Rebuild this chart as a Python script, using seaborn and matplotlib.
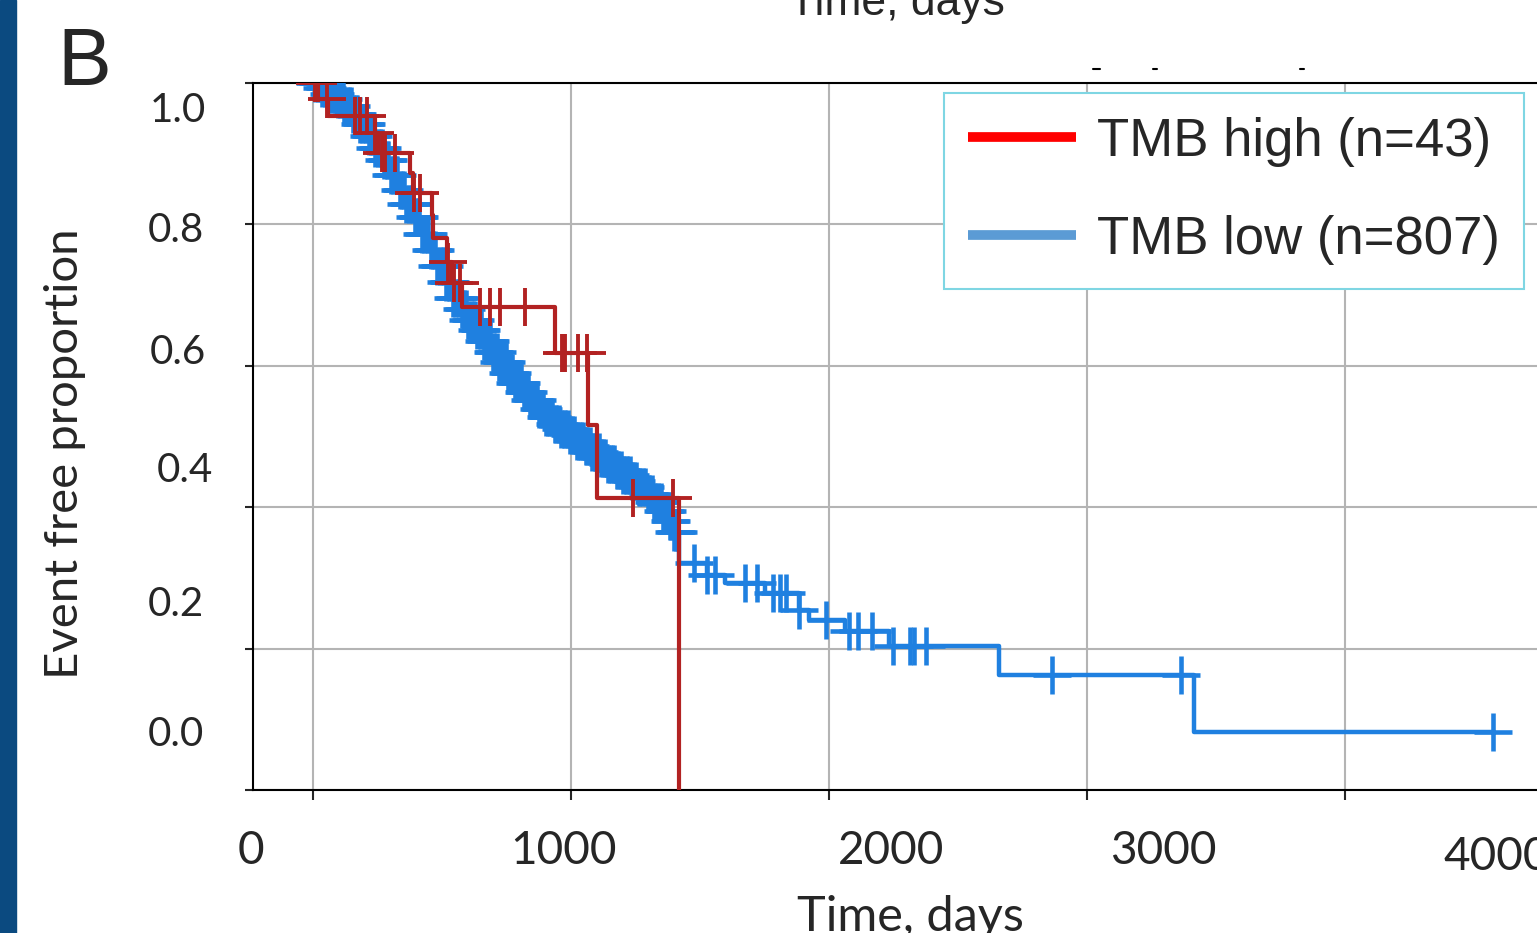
import numpy as np
import pandas as pd
import matplotlib
matplotlib.use('Agg')
import matplotlib.pyplot as plt
from matplotlib.lines import Line2D
from matplotlib.patches import Rectangle
import seaborn as sns

# TMB high (n=43): step times (days) and event free proportion after each step
high_time = [0, 20, 58, 240, 252, 376, 388, 461, 465, 519, 539, 578, 938, 1066, 1101, 1419]
high_surv = [1.0, 0.977, 0.954, 0.929, 0.901, 0.873, 0.844, 0.813, 0.781, 0.747, 0.717,
             0.683, 0.618, 0.516, 0.413, 0.0]
high_cens = [8, 19, 54, 163, 182, 209, 240, 267, 279, 318, 392, 415, 524, 548, 570,
             647, 686, 725, 822, 965, 977, 1027, 1060, 1240, 1395]

# TMB low (n=807)
low_time = [0, 30, 60, 90, 120, 150, 180, 210, 240, 270, 300, 330, 360, 390, 420, 450,
            480, 510, 540, 570, 600, 630, 660, 690, 720, 750, 780, 810, 840, 870, 900,
            930, 960, 990, 1020, 1050, 1080, 1110, 1140, 1170, 1200, 1230, 1260, 1290,
            1320, 1350, 1380, 1400, 1419, 1527, 1597, 1752, 1884, 1922, 2062, 2233,
            2659, 3415, 4574]
low_surv = [1.0, 0.993, 0.985, 0.978, 0.968, 0.956, 0.942, 0.925, 0.908, 0.891, 0.870,
            0.849, 0.829, 0.810, 0.787, 0.764, 0.741, 0.718, 0.696, 0.680, 0.665, 0.650,
            0.635, 0.620, 0.605, 0.590, 0.576, 0.563, 0.551, 0.539, 0.527, 0.517, 0.510,
            0.502, 0.494, 0.486, 0.478, 0.469, 0.461, 0.453, 0.445, 0.437, 0.428, 0.419,
            0.408, 0.395, 0.380, 0.365, 0.321, 0.304, 0.293, 0.279, 0.255, 0.241, 0.225,
            0.204, 0.163, 0.082, 0.082]
low_cens = [9, 18, 28, 35, 45, 52, 62, 69, 80, 86, 97, 103, 114, 120, 131, 138, 148,
            155, 165, 172, 182, 189, 200, 206, 217, 223, 234, 240, 251, 258, 268, 275,
            285, 292, 302, 309, 320, 326, 337, 343, 354, 360, 371, 378, 388, 395, 405,
            412, 422, 429, 440, 446, 457, 463, 474, 480, 491, 498, 508, 515, 525, 532,
            542, 549, 560, 566, 577, 583, 594, 600, 611, 618, 628, 635, 645, 652, 662,
            669, 680, 686, 697, 703, 714, 720, 731, 738, 748, 755, 765, 772, 782, 789,
            800, 806, 817, 823, 834, 840, 851, 858, 868, 875, 885, 892, 902, 909, 920,
            926, 937, 943, 954, 960, 971, 978, 988, 995, 1005, 1012, 1022, 1029, 1040,
            1046, 1057, 1063, 1074, 1080, 1091, 1098, 1108, 1115, 1125, 1132, 1142, 1149,
            1160, 1166, 1177, 1183, 1194, 1200, 1211, 1218, 1228, 1235, 1245, 1252, 1262,
            1269, 1280, 1286, 1297, 1303, 1314, 1320, 1331, 1338, 1348, 1355, 1365, 1372,
            1382, 1389, 1400, 1406, 1414,
            1477, 1527, 1558, 1674, 1721, 1783, 1810, 1833, 1884, 1988, 2078, 2112, 2167,
            2248, 2314, 2329, 2376, 2864, 3364, 4574]

x_ticks = [0, 1000, 2000, 3000, 4000]
y_ticks = [0.0, 0.2, 0.4, 0.6, 0.8, 1.0]

red = '#b22222'
blue = '#1f80e0'


def cens_points(times, surv, cens):
    idx = np.searchsorted(times, cens, side='right') - 1
    return pd.DataFrame({'t': cens, 's': np.asarray(surv)[idx]})


W, H = 1537, 933
sns.set_style('white')
fig = plt.figure(figsize=(W / 100, H / 100), dpi=100)
ax = fig.add_axes([253 / W, 1 - 790 / H, (W - 253) / W, (790 - 83) / H])

sns.lineplot(x=low_time, y=low_surv, ax=ax, color=blue, lw=3.2, estimator=None,
             sort=False, drawstyle='steps-post', zorder=3)
sns.scatterplot(data=cens_points(low_time, low_surv, low_cens), x='t', y='s', ax=ax,
                marker='+', s=28 ** 2, color=blue, linewidth=3.3, zorder=3)
sns.lineplot(x=high_time, y=high_surv, ax=ax, color=red, lw=3.0, estimator=None,
             sort=False, drawstyle='steps-post', zorder=4)
sns.scatterplot(data=cens_points(high_time, high_surv, high_cens), x='t', y='s', ax=ax,
                marker='+', s=28 ** 2, color=red, linewidth=2.8, zorder=4)

ax.set_xlim(-233, 4744)
ax.set_ylim(0, 1.0)
ax.set_xticks(x_ticks)
ax.set_yticks(y_ticks)
ax.set_xticklabels([])
ax.set_yticklabels([])
ax.set_xlabel('')
ax.set_ylabel('')
ax.grid(True, color='#b4b4b4', lw=1.5)
ax.set_axisbelow(True)
for side in ['left', 'bottom', 'top']:
    ax.spines[side].set_color('black')
    ax.spines[side].set_linewidth(1.5)
ax.spines['right'].set_visible(False)
ax.tick_params(axis='y', direction='out', length=6, width=1.5, left=True)
ax.tick_params(axis='x', direction='out', length=7, width=1.5, bottom=True)

# tick labels as they sit in the figure
cal = ['Lato', 'DejaVu Sans']
arial = ['Liberation Sans', 'DejaVu Sans']
ylab_pos = [(176, 734), (176, 604), (185, 471), (178, 352), (176, 231), (178, 110)]
for v, (px, py) in zip(y_ticks, ylab_pos):
    fig.text(px / W, 1 - py / H, f'{v:.1f}', ha='center', va='center', fontsize=29,
             family=cal)
xlab_pos = [(251, 851), (563, 851), (891, 851), (1163, 851)]
for v, (px, py) in zip(x_ticks[:4], xlab_pos):
    fig.text(px / W, 1 - py / H, str(v), ha='center', va='center', fontsize=33,
             family=cal)
fig.text(1443 / W, 1 - 857 / H, '4000', ha='left', va='center', fontsize=33, family=cal)

fig.text(910 / W, 1 - 931 / H, 'Time, days', ha='center', va='baseline', fontsize=35,
         family=cal)
fig.text(897 / W, 1 - 15 / H, 'Time, days', ha='center', va='baseline', fontsize=32,
         family=arial)
fig.text(65 / W, 1 - 454 / H, 'Event free proportion', ha='center', va='center',
         rotation=90, fontsize=34, family=cal)
fig.text(57 / W, 1 - 85 / H, 'B', ha='left', va='baseline', fontsize=58, family=arial)

# left edge strip and small specks left over from the panel above
fig.add_artist(Rectangle((0, 0), 16 / W, 1, transform=fig.transFigure,
                         color='#0b4a80', zorder=10))
for x0, x1 in [(1093, 1100), (1153, 1157), (1300, 1304)]:
    fig.add_artist(Line2D([x0 / W, x1 / W], [1 - 68.5 / H] * 2, transform=fig.transFigure,
                          color='black', lw=1.5))

handles = [Line2D([], [], color='#ff0000', lw=7, solid_capstyle='butt'),
           Line2D([], [], color='#5b9bd5', lw=7, solid_capstyle='butt')]
leg = ax.legend(handles, ['TMB high (n=43)', 'TMB low (n=807)'], loc='upper left',
                bbox_to_anchor=(944 / W, 1 - 93 / H), bbox_transform=fig.transFigure,
                borderaxespad=0, frameon=True, fancybox=False,
                handlelength=2.05, handletextpad=0.4, borderpad=0.45, labelspacing=0.91,
                prop={'family': arial, 'size': 38})
leg.get_frame().set_edgecolor('#7fd6e3')
leg.get_frame().set_linewidth(1.5)
leg.get_frame().set_alpha(1)

fig.savefig('out.png', dpi=100)
